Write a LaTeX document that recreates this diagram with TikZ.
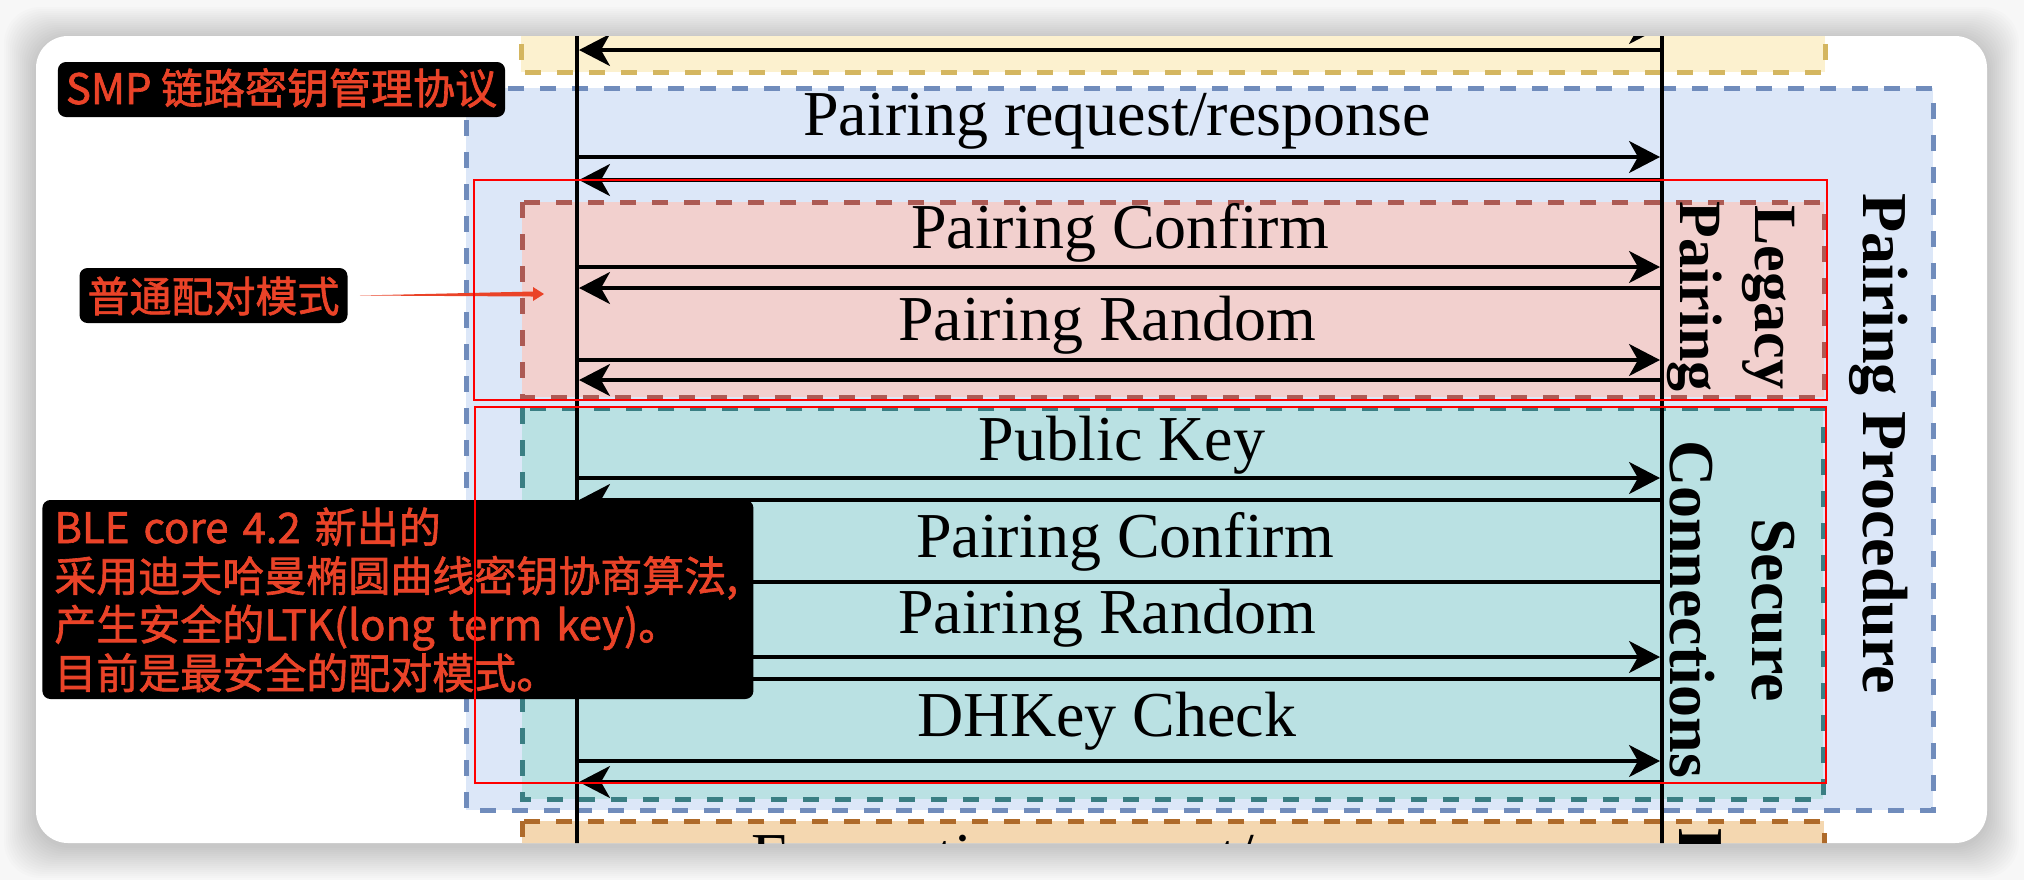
\documentclass[tikz,border=0pt]{standalone}
\usepackage{fontspec}
\setmainfont{Liberation Serif}
\newfontfamily\cjk[FakeBold = 1.5]{Noto Sans CJK SC}
\usetikzlibrary{arrows.meta, calc}

\definecolor{smpRed}{RGB}{234, 67, 40}
\definecolor{featFill}{RGB}{252, 241, 207}
\definecolor{featLine}{RGB}{212, 182, 96}
\definecolor{procFill}{RGB}{220, 231, 248}
\definecolor{procLine}{RGB}{112, 140, 188}
\definecolor{legFill}{RGB}{242, 208, 206}
\definecolor{legLine}{RGB}{172, 90, 84}
\definecolor{scFill}{RGB}{186, 225, 227}
\definecolor{scLine}{RGB}{58, 126, 131}
\definecolor{keyFill}{RGB}{244, 215, 176}
\definecolor{keyLine}{RGB}{174, 106, 42}

\tikzset{
	phase/.style = {line width = 2.5pt, dash pattern = on 8pt off 8pt},
	msg/.style = {line width = 1.7pt, -{Stealth[length = 15.5pt, width = 16pt, inset = 4.5pt]}},
	msgtext/.style = {anchor = base, inner sep = 0pt, font = \fontsize{32}{38}\selectfont},
	sidetext/.style = {anchor = base, inner sep = 0pt, rotate = -90, font = \bfseries\fontsize{32}{38}\selectfont},
	note/.style = {fill = black, text = smpRed, rounded corners = 4pt, inner xsep = 4pt, inner ysep = 0pt, font = \cjk\fontsize{21}{24.3}\selectfont},
	markbox/.style = {draw = red, line width = 1pt},
}

\begin{document}
\begin{tikzpicture}[x = 0.5pt, y = -0.5pt]

	\useasboundingbox (0, 0) rectangle (2024, 880);
	\fill[black!3] (0, 0) rectangle (2024, 880);
	\foreach \s in {2, 4, ..., 32}
		\fill[black, opacity = 0.011, rounded corners = 18pt] (36 - \s, 39 - \s) rectangle (1987 + \s, 846 + \s); % shadow
	\fill[white, rounded corners = 16pt] (36, 36) rectangle (1987, 843); % card

	\begin{scope}
		\clip[rounded corners = 16pt] (36, 36) rectangle (1987, 843);

		\draw[phase, draw = featLine, fill = featFill] (521, -20) rectangle (1825, 72);
		\draw[phase, draw = procLine, fill = procFill] (466, 88) rectangle (1933, 810); % Pairing Procedure
		\draw[phase, draw = legLine, fill = legFill] (522, 202) rectangle (1824, 397); % Legacy
		\draw[phase, draw = scLine, fill = scFill] (522, 408) rectangle (1823, 799); % Secure Connections
		\draw[phase, draw = keyLine, fill = keyFill] (522, 821) rectangle (1824, 920);

		\coordinate (devA) at (577, 0);
		\coordinate (devAend) at (577, 880);
		\coordinate (devB) at (1662, 0);
		\coordinate (devBend) at (1662, 880);
		\coordinate (inA) at (579, 0);
		\coordinate (inB) at (1660, 0);
		\draw[line width = 2.2pt] (devA) -- (devAend);
		\draw[line width = 2.2pt] (devB) -- (devBend);

		\draw[msg] (inA |- 0,28) -- (inB |- 0,28);
		\draw[msg] (inB |- 0,50) -- (inA |- 0,50);

		\draw[msg] (inA |- 0,157) -- (inB |- 0,157);
		\draw[msg] (inB |- 0,180) -- (inA |- 0,180);

		\draw[msg] (inA |- 0,267) -- (inB |- 0,267);
		\draw[msg] (inB |- 0,288) -- (inA |- 0,288);
		\draw[msg] (inA |- 0,360) -- (inB |- 0,360);
		\draw[msg] (inB |- 0,380) -- (inA |- 0,380);

		\draw[msg] (inA |- 0,478) -- (inB |- 0,478);
		\draw[msg] (inB |- 0,500) -- (inA |- 0,500);
		\draw[msg] (inB |- 0,582) -- (inA |- 0,582);
		\draw[msg] (inA |- 0,657) -- (inB |- 0,657);
		\draw[msg] (inB |- 0,679) -- (inA |- 0,679);
		\draw[msg] (inA |- 0,761) -- (inB |- 0,761);
		\draw[msg] (inB |- 0,782) -- (inA |- 0,782);

		\node[msgtext] (reqTxt) at (1117, 135) {Pairing request/response};
		\node[msgtext] (lgConfTxt) at (1120, 248) {Pairing Confirm};
		\node[msgtext] (lgRandTxt) at (1107, 340) {Pairing Random};
		\node[msgtext] (pubTxt) at (1122, 460) {Public Key};
		\node[msgtext] (scConfTxt) at (1125, 557) {Pairing Confirm};
		\node[msgtext] (scRandTxt) at (1107, 633) {Pairing Random};
		\node[msgtext] (dhTxt) at (1107, 736) {DHKey Check};
		\node[msgtext] (encTxt) at (1115, 877) {Encryption request/response};

		\node[sidetext] (procTxt) at (1863, 443.5) {Pairing Procedure};
		\node[sidetext, font = \bfseries\fontsize{30}{36}\selectfont] (legTxtA) at (1755, 297.5) {Legacy};
		\node[sidetext, font = \bfseries\fontsize{30}{36}\selectfont] (legTxtB) at (1680, 296.5) {Pairing};
		\node[sidetext] (scTxtA) at (1752, 610) {Secure};
		\node[sidetext] (scTxtB) at (1670, 609) {Connections};
		\node[sidetext, anchor = base west] (keyTxt) at (1679, 828) {Key Distribution};
	\end{scope}

	\node[note, anchor = base, text height = 21pt, text depth = 6.5pt] (smpTag) at (281.5, 104) {SMP 链路密钥管理协议};
	\node[note, anchor = base, text height = 22pt, text depth = 5.5pt] (legacyTag) at (213.5, 312) {普通配对模式};
	\node[note, anchor = base west, align = left, text width = 343.5pt, inner xsep = 6pt, text height = 21.5pt, text depth = 78pt] (scTag) at (42, 543) {BLE core 4.2 新出的\\采用迪夫哈曼椭圆曲线密钥协商算法,\\产生安全的LTK(long term key)。\\目前是最安全的配对模式。};

	\coordinate (legacyTip) at (544, 294);
	\fill[smpRed] ([xshift = 6pt]legacyTag.east) -- ($(legacyTip) + (-11, -2.5)$) -- ($(legacyTip) + (-11, -7)$) -- (legacyTip) -- ($(legacyTip) + (-11, 7)$) -- ($(legacyTip) + (-11, 2.5)$) -- cycle;

	\draw[markbox] (474, 180) rectangle (1827, 400);
	\draw[markbox] (475, 407) rectangle (1826, 783);

\end{tikzpicture}
\end{document}
